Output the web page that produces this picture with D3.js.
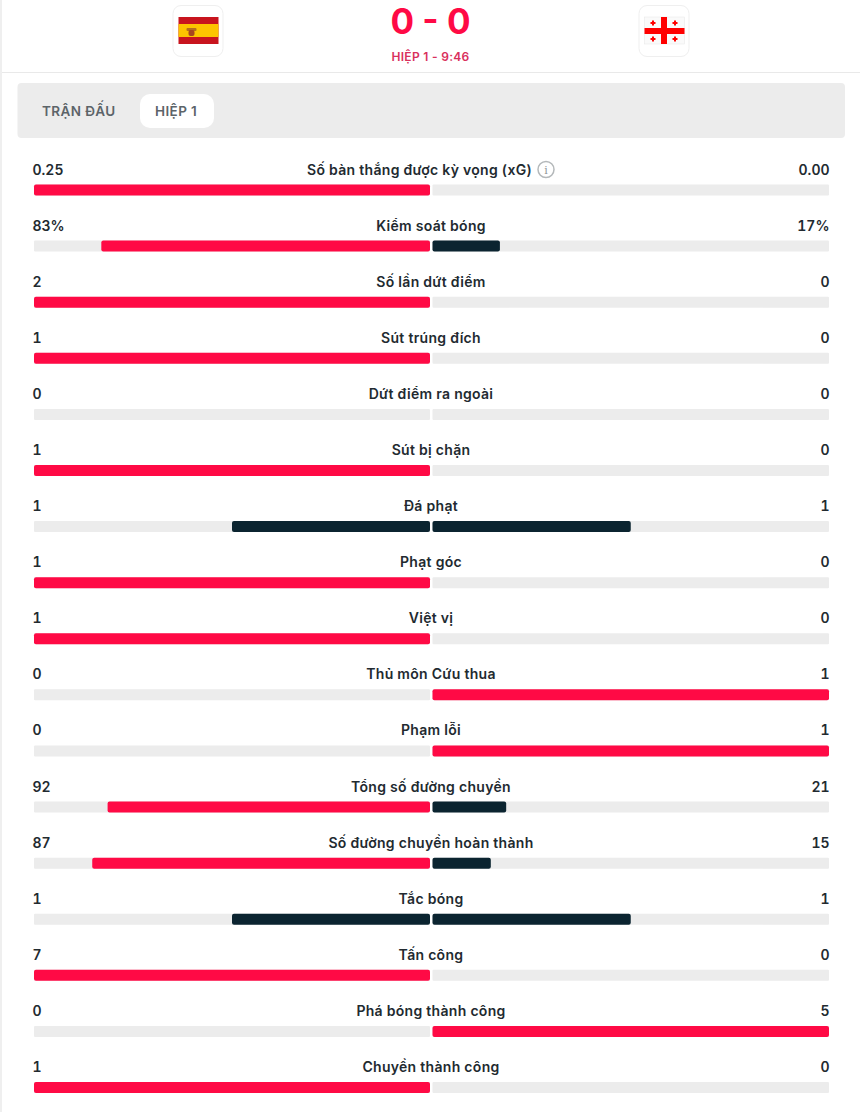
<!DOCTYPE html>
<html>
<head>
<meta charset="utf-8">
<script src="https://cdnjs.cloudflare.com/ajax/libs/d3/7.8.5/d3.min.js"></script>
<style>
  html, body { margin: 0; padding: 0; background: #fff; }
  svg { display: block; font-family: Inter, "Noto Sans", sans-serif; }
</style>
</head>
<body>
<svg id="chart" width="860" height="1112"></svg>
<script>
// stats table, one entry per row
var statNames = ['Số bàn thắng được kỳ vọng (xG)', 'Kiểm soát bóng', 'Số lần dứt điểm', 'Sút trúng đích',
  'Dứt điểm ra ngoài', 'Sút bị chặn', 'Đá phạt', 'Phạt góc', 'Việt vị', 'Thủ môn Cứu thua', 'Phạm lỗi',
  'Tổng số đường chuyền', 'Số đường chuyền hoàn thành', 'Tắc bóng', 'Tấn công', 'Phá bóng thành công', 'Chuyền thành công'];
var homeValues = [0.25, 83, 2, 1, 0, 1, 1, 1, 1, 0, 0, 92, 87, 1, 7, 0, 1];
var awayValues = [0, 17, 0, 0, 0, 0, 1, 0, 0, 1, 1, 21, 15, 1, 0, 5, 0];
var homeLabels = ['0.25', '83%', '2', '1', '0', '1', '1', '1', '1', '0', '0', '92', '87', '1', '7', '0', '1'];
var awayLabels = ['0.00', '17%', '0', '0', '0', '0', '1', '0', '0', '1', '1', '21', '15', '1', '0', '5', '0'];
var tabs = ['TRẬN ĐẤU', 'HIỆP 1'];

var red = '#ff0a45';
var dark = '#0b2430';
var track = '#ececec';
var ink = '#222a30';

var svg = d3.select('#chart');

// page edge
svg.append('rect').attr('x', 0).attr('y', 0).attr('width', 2).attr('height', 1112).attr('fill', '#efefef');

// header
svg.append('line').attr('x1', 2).attr('x2', 860).attr('y1', 72.5).attr('y2', 72.5).attr('stroke', '#e9e9e9');

function flagCard(x) {
  var g = svg.append('g').attr('transform', 'translate(' + x + ',5)');
  g.append('rect').attr('x', 0.5).attr('y', 0.5).attr('width', 50).attr('height', 51).attr('rx', 8)
    .attr('fill', '#fff').attr('stroke', '#efefef');
  return g;
}

var spain = flagCard(172.5);
spain.append('rect').attr('x', 6).attr('y', 12).attr('width', 40).attr('height', 27).attr('fill', '#c8141e');
spain.append('rect').attr('x', 6).attr('y', 19).attr('width', 40).attr('height', 13).attr('fill', '#fdc400');
spain.append('rect').attr('x', 14).attr('y', 23).attr('width', 10).attr('height', 3).attr('rx', 1).attr('fill', '#b5701d');
spain.append('rect').attr('x', 16).attr('y', 25).attr('width', 6).attr('height', 6).attr('rx', 2).attr('fill', '#a8451f');

var georgia = flagCard(638.5);
georgia.append('rect').attr('x', 6).attr('y', 12).attr('width', 40).attr('height', 27).attr('fill', '#fafafa').attr('stroke', '#e6e6e6').attr('stroke-width', 0.5);
georgia.append('rect').attr('x', 22.5).attr('y', 12).attr('width', 6).attr('height', 27).attr('fill', '#f00');
georgia.append('rect').attr('x', 6).attr('y', 23).attr('width', 40).attr('height', 6).attr('fill', '#f00');
[[14.5, 18], [36.5, 18], [14.5, 34], [36.5, 34]].forEach(function (c) {
  georgia.append('rect').attr('x', c[0] - 2.5).attr('y', c[1] - 1).attr('width', 5).attr('height', 2).attr('fill', '#f00');
  georgia.append('rect').attr('x', c[0] - 1).attr('y', c[1] - 2.5).attr('width', 2).attr('height', 5).attr('fill', '#f00');
});

svg.append('text').attr('x', 430.5).attr('y', 34).attr('text-anchor', 'middle')
  .attr('font-size', 35).attr('font-weight', 700).attr('fill', red).text('0 - 0');
svg.append('text').attr('x', 430.5).attr('y', 61).attr('text-anchor', 'middle')
  .attr('font-size', 12).attr('font-weight', 600).attr('fill', '#d9305c').attr('letter-spacing', 0.3).text('HIỆP 1 - 9:46');

// tabs
svg.append('rect').attr('x', 17.5).attr('y', 83).attr('width', 827.5).attr('height', 55).attr('rx', 4).attr('fill', '#ececec');
svg.append('rect').attr('x', 140).attr('y', 94).attr('width', 74).attr('height', 34).attr('rx', 10).attr('fill', '#fff');
svg.selectAll('.tab').data(tabs).enter().append('text')
  .attr('class', 'tab')
  .attr('x', function (d, i) { return i === 0 ? 42 : 155; })
  .attr('y', 116)
  .attr('font-size', 13.5).attr('font-weight', 600).attr('letter-spacing', 0.4)
  .attr('fill', '#5c6469')
  .text(function (d) { return d; });

// stat rows
var rowY = d3.scaleLinear().domain([0, statNames.length - 1]).range([184.5, 1082]);
var homeX = d3.scaleLinear().domain([0, 1]).range([430, 34]);
var awayX = d3.scaleLinear().domain([0, 1]).range([432.5, 829]);
var barH = 11;

function share(v, other) {
  return v + other === 0 ? 0 : v / (v + other);
}
// the side in front is red, the one behind (and both on a tie) is dark
function barColor(v, other) {
  return v > other ? red : dark;
}

var rows = svg.selectAll('.row').data(statNames).enter().append('g')
  .attr('class', 'row')
  .attr('transform', function (d, i) { return 'translate(0,' + rowY(i) + ')'; });

rows.append('rect').attr('x', homeX(1)).attr('width', homeX(0) - homeX(1)).attr('height', barH).attr('rx', 1).attr('fill', track);
rows.append('rect').attr('x', awayX(0)).attr('width', awayX(1) - awayX(0)).attr('height', barH).attr('rx', 1).attr('fill', track);

rows.append('rect')
  .attr('x', function (d, i) { return homeX(share(homeValues[i], awayValues[i])); })
  .attr('width', function (d, i) { return homeX(0) - homeX(share(homeValues[i], awayValues[i])); })
  .attr('height', barH).attr('rx', 2)
  .attr('fill', function (d, i) { return barColor(homeValues[i], awayValues[i]); });

rows.append('rect')
  .attr('x', awayX(0))
  .attr('width', function (d, i) { return awayX(share(awayValues[i], homeValues[i])) - awayX(0); })
  .attr('height', barH).attr('rx', 2)
  .attr('fill', function (d, i) { return barColor(awayValues[i], homeValues[i]); });

function rowText(anchor, x, spacing, getText) {
  return rows.append('text')
    .attr('x', x).attr('y', -10)
    .attr('text-anchor', anchor)
    .attr('font-size', 14).attr('font-weight', 600).attr('letter-spacing', spacing)
    .attr('fill', ink)
    .text(getText);
}
rowText('start', 32.5, 0, function (d, i) { return homeLabels[i]; }).style('font-feature-settings', '"tnum"');
rowText('end', 829.5, 0, function (d, i) { return awayLabels[i]; }).style('font-feature-settings', '"tnum"');
var names = rowText('middle', 431, 0.3, function (d) { return d; });

// xG row has its label shifted left to make room for the info icon
d3.select(names.nodes()[0]).attr('x', 419.5);
var firstRow = d3.select(rows.nodes()[0]);
firstRow.append('circle').attr('cx', 546).attr('cy', -15).attr('r', 8).attr('fill', 'none').attr('stroke', '#b4b8ba').attr('stroke-width', 1.5);
firstRow.append('text').attr('x', 546).attr('y', -10.5).attr('text-anchor', 'middle')
  .attr('font-family', 'DejaVu Serif').attr('font-size', 11).attr('fill', '#8f9497').text('i');
</script>
</body>
</html>
